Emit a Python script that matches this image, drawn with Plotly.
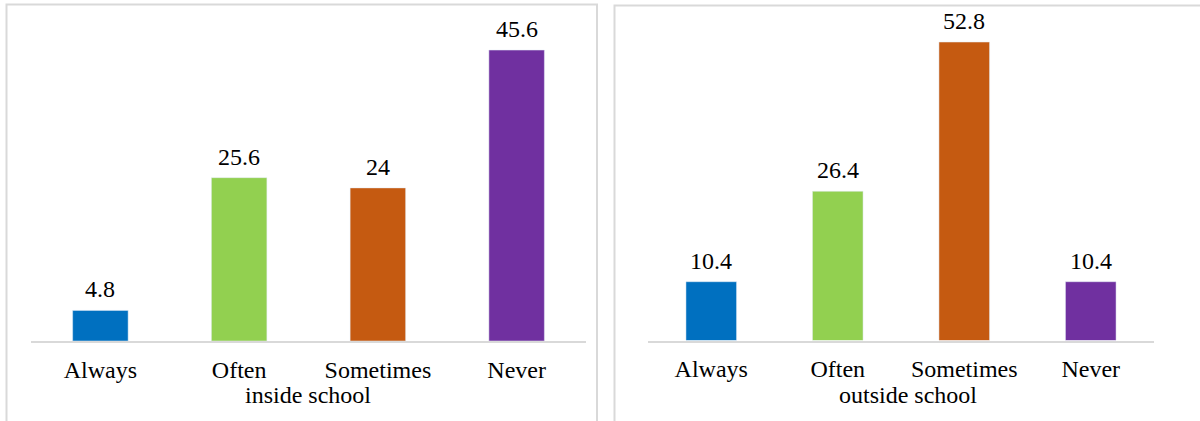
import plotly.graph_objects as go

categories = ["Always", "Often", "Sometimes", "Never"]
inside_values = [4.8, 25.6, 24, 45.6]
outside_values = [10.4, 26.4, 52.8, 10.4]
inside_labels = ["4.8", "25.6", "24", "45.6"]
outside_labels = ["10.4", "26.4", "52.8", "10.4"]
bar_colors = ["#0070C0", "#92D050", "#C55A11", "#7030A0"]
titles = ["inside school", "outside school"]

W, H = 1200, 421
FONT = "Liberation Serif"
FS = 24

def px(x):
    return x / W

def py(y):
    return 1 - y / H

fig = go.Figure()
fig.add_trace(go.Bar(x=categories, y=inside_values, marker_color=bar_colors,
                     width=0.4, xaxis="x", yaxis="y", showlegend=False, hoverinfo="x+y"))
fig.add_trace(go.Bar(x=categories, y=outside_values, marker_color=bar_colors,
                     width=0.4, xaxis="x2", yaxis="y2", showlegend=False, hoverinfo="x+y"))

annotations = []
for xr, yr, vals, labs in [("x", "y", inside_values, inside_labels),
                           ("x2", "y2", outside_values, outside_labels)]:
    for c, v, l in zip(categories, vals, labs):
        annotations.append(dict(x=c, y=v, xref=xr, yref=yr, text=l, showarrow=False,
                                yanchor="bottom", yshift=6,
                                font=dict(family=FONT, size=FS, color="#000000")))
annotations.append(dict(x=px(308), y=py(395), xref="paper", yref="paper", text=titles[0],
                        showarrow=False, xanchor="center", yanchor="middle",
                        font=dict(family=FONT, size=FS, color="#000000")))
annotations.append(dict(x=px(908), y=py(395), xref="paper", yref="paper", text=titles[1],
                        showarrow=False, xanchor="center", yanchor="middle",
                        font=dict(family=FONT, size=FS, color="#000000")))

border = dict(color="#d9d9d9", width=2)
shapes = [
    dict(type="path", xref="paper", yref="paper",
         path=f"M {px(6.5)},{py(430)} L {px(6.5)},{py(4.5)} L {px(597)},{py(4.5)} L {px(597)},{py(430)}",
         line=border),
    dict(type="path", xref="paper", yref="paper",
         path=f"M {px(614.5)},{py(430)} L {px(614.5)},{py(5.5)} L {px(1210)},{py(5.5)}",
         line=border),
]

axis_common = dict(showgrid=False, zeroline=False, showline=True, linecolor="#d9d9d9",
                   linewidth=2, ticks="", ticklabelstandoff=6,
                   tickfont=dict(family=FONT, size=FS, color="#000000"),
                   fixedrange=True)

fig.update_layout(
    width=W, height=H,
    margin=dict(l=0, r=0, t=0, b=0),
    paper_bgcolor="white", plot_bgcolor="white",
    xaxis=dict(domain=[px(31), px(586)], anchor="y", **axis_common),
    yaxis=dict(domain=[py(341), py(22)], range=[0, 50], visible=False, anchor="x"),
    xaxis2=dict(domain=[px(648), px(1154)], anchor="y2", **axis_common),
    yaxis2=dict(domain=[py(340.5), py(29.6)], range=[0, 55], visible=False, anchor="x2"),
    annotations=annotations,
    shapes=shapes,
    bargap=0.6,
)

fig.write_html("out.html")
